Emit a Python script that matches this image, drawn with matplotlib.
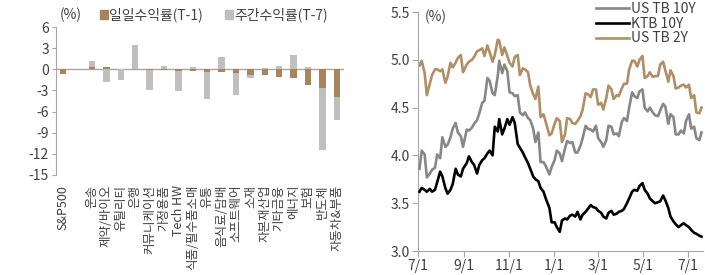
import matplotlib
matplotlib.use("Agg")
import matplotlib.pyplot as plt
import matplotlib.dates as mdates
import numpy as np
import pandas as pd
from matplotlib.patches import Patch
from matplotlib.lines import Line2D

plt.rcParams['font.family'] = ['Noto Sans CJK KR', 'DejaVu Sans']

# ---------------- Left panel data ----------------
categories = ['S&P500', '', '운송', '제약/바이오', '유틸리티', '은행', '커뮤니케이션', '가정용품',
              'Tech HW', '식품/필수품소매', '유통', '음식료/담배', '소프트웨어', '소재', '자본재산업',
              '기타금융', '에너지', '보험', '반도체', '자동차&부품']
daily = [-0.65, np.nan, 0.3, 0.3, 0.1, 0.05, -0.1, -0.15, -0.2, -0.25, -0.35, -0.45, -0.55,
         -0.8, -0.85, -1.1, -1.3, -2.2, -2.65, -3.9]
weekly = [-0.4, np.nan, 1.2, -1.8, -1.5, 3.5, -3.0, 0.4, -3.1, 0.3, -4.2, 1.7, -3.6,
          -1.3, 0.25, 0.5, 2.05, 0.3, -11.4, -7.2]
left_yticks = [6, 3, 0, -3, -6, -9, -12, -15]

# ---------------- Right panel data ----------------
dates = [
    '2023-07-03', '2023-07-06', '2023-07-10', '2023-07-13', '2023-07-17', '2023-07-20', '2023-07-24', '2023-07-27', '2023-07-31',
    '2023-08-03', '2023-08-07', '2023-08-10', '2023-08-14', '2023-08-17', '2023-08-21', '2023-08-24', '2023-08-28', '2023-08-31',
    '2023-09-05', '2023-09-08', '2023-09-12', '2023-09-15', '2023-09-19', '2023-09-22', '2023-09-26', '2023-09-29',
    '2023-10-03', '2023-10-06', '2023-10-10', '2023-10-13', '2023-10-17', '2023-10-19', '2023-10-23', '2023-10-26', '2023-10-30',
    '2023-11-02', '2023-11-06', '2023-11-09', '2023-11-13', '2023-11-16', '2023-11-20', '2023-11-23', '2023-11-27', '2023-11-30',
    '2023-12-04', '2023-12-07', '2023-12-11', '2023-12-14', '2023-12-18', '2023-12-21', '2023-12-26', '2023-12-29',
    '2024-01-02', '2024-01-05', '2024-01-09', '2024-01-12', '2024-01-16', '2024-01-19', '2024-01-23', '2024-01-26', '2024-01-30',
    '2024-02-02', '2024-02-06', '2024-02-09', '2024-02-13', '2024-02-16', '2024-02-20', '2024-02-23', '2024-02-27',
    '2024-03-01', '2024-03-05', '2024-03-08', '2024-03-12', '2024-03-15', '2024-03-19', '2024-03-22', '2024-03-26', '2024-03-29',
    '2024-04-02', '2024-04-05', '2024-04-09', '2024-04-12', '2024-04-16', '2024-04-19', '2024-04-23', '2024-04-26', '2024-04-30',
    '2024-05-03', '2024-05-07', '2024-05-10', '2024-05-14', '2024-05-17', '2024-05-21', '2024-05-24', '2024-05-28', '2024-05-31',
    '2024-06-04', '2024-06-07', '2024-06-11', '2024-06-14', '2024-06-18', '2024-06-21', '2024-06-25', '2024-06-28',
    '2024-07-02', '2024-07-05', '2024-07-09', '2024-07-12', '2024-07-16', '2024-07-19',
]
us10y = [
    3.86, 4.05, 4.01, 3.77, 3.81, 3.85, 3.87, 4.01, 3.97,
    4.19, 4.09, 4.11, 4.19, 4.28, 4.34, 4.24, 4.20, 4.09,
    4.27, 4.26, 4.29, 4.33, 4.37, 4.44, 4.55, 4.57,
    4.81, 4.78, 4.65, 4.63, 4.83, 4.99, 4.86, 4.95, 4.88,
    4.66, 4.65, 4.62, 4.63, 4.45, 4.42, 4.45, 4.39, 4.37,
    4.28, 4.14, 4.24, 3.93, 3.93, 3.89, 3.80, 3.88,
    3.95, 4.05, 4.02, 3.94, 4.07, 4.15, 4.13, 4.14, 4.03,
    4.03, 4.10, 4.18, 4.31, 4.28, 4.27, 4.25, 4.31,
    4.18, 4.14, 4.09, 4.16, 4.31, 4.30, 4.22, 4.23, 4.20,
    4.35, 4.39, 4.36, 4.50, 4.66, 4.62, 4.60, 4.67, 4.69,
    4.50, 4.46, 4.50, 4.45, 4.42, 4.41, 4.47, 4.54, 4.51,
    4.33, 4.43, 4.40, 4.22, 4.22, 4.26, 4.23, 4.36,
    4.43, 4.28, 4.30, 4.18, 4.16, 4.24,
]
ktb10y = [
    3.62, 3.66, 3.64, 3.62, 3.65, 3.62, 3.64, 3.72, 3.83,
    3.78, 3.66, 3.60, 3.64, 3.70, 3.86, 3.80, 3.78, 3.86,
    3.92, 3.99, 3.93, 3.90, 3.81, 3.90, 3.95, 3.97,
    4.02, 4.05, 4.00, 4.30, 4.25, 4.38, 4.22, 4.28, 4.38,
    4.32, 4.40, 4.34, 4.12, 4.08, 4.03, 3.98, 3.92, 3.86,
    3.78, 3.75, 3.73, 3.66, 3.62, 3.55, 3.45, 3.30,
    3.30, 3.25, 3.20, 3.32, 3.34, 3.33, 3.37, 3.38, 3.36,
    3.41, 3.33, 3.38, 3.41, 3.44, 3.48, 3.46, 3.45,
    3.42, 3.40, 3.36, 3.34, 3.40, 3.42, 3.38, 3.39, 3.41,
    3.42, 3.44, 3.50, 3.55, 3.62, 3.64, 3.63, 3.68, 3.71,
    3.64, 3.60, 3.55, 3.52, 3.50, 3.51, 3.52, 3.58, 3.53,
    3.45, 3.36, 3.31, 3.28, 3.25, 3.27, 3.29, 3.27,
    3.25, 3.22, 3.19, 3.18, 3.16, 3.15,
]
us2y = [
    4.94, 4.99, 4.86, 4.63, 4.75, 4.84, 4.90, 4.90, 4.88,
    4.90, 4.76, 4.82, 4.97, 4.92, 4.97, 5.02, 5.05, 4.87,
    4.95, 4.98, 5.00, 5.03, 5.09, 5.10, 5.12, 5.04,
    5.15, 5.08, 4.98, 5.05, 5.21, 5.20, 5.05, 5.13, 5.04,
    4.97, 4.93, 5.03, 5.05, 4.84, 4.91, 4.90, 4.87, 4.73,
    4.64, 4.59, 4.72, 4.40, 4.43, 4.35, 4.21, 4.23,
    4.33, 4.39, 4.36, 4.14, 4.22, 4.39, 4.38, 4.34, 4.33,
    4.36, 4.41, 4.48, 4.65, 4.64, 4.61, 4.69, 4.69,
    4.53, 4.55, 4.48, 4.60, 4.73, 4.69, 4.59, 4.63, 4.62,
    4.70, 4.75, 4.75, 4.90, 4.99, 4.99, 4.93, 5.00, 5.04,
    4.81, 4.83, 4.87, 4.82, 4.83, 4.83, 4.95, 4.98, 4.89,
    4.77, 4.89, 4.83, 4.70, 4.71, 4.73, 4.74, 4.71,
    4.74, 4.60, 4.63, 4.45, 4.44, 4.50,
]
right_xticks = ['2023-07-01', '2023-09-01', '2023-11-01', '2024-01-01', '2024-03-01', '2024-05-01', '2024-07-01']
right_xlabels = ['7/1', '9/1', '11/1', '1/1', '3/1', '5/1', '7/1']
right_yticks = [3.0, 3.5, 4.0, 4.5, 5.0, 5.5]

# ---------------- Styles ----------------
BROWN = '#A8845C'
LGRAY = '#BFBFBF'
MGRAY = '#878787'
TAN = '#B08E66'
AXC = '#A6A6A6'
TXT = '#404040'

fig = plt.figure(figsize=(7.05, 2.75), dpi=100)

# ----- Left -----
ax1 = fig.add_axes([56/705, 1-175/275, (344-56)/705, (175-27)/275])
x = np.arange(len(categories))
w = 0.45
ax1.bar(x, weekly, width=w, color=LGRAY, zorder=2)
ax1.bar(x, daily, width=w, color=BROWN, zorder=3)
ax1.axhline(0, color=AXC, lw=1.0, zorder=1)
ax1.set_xlim(-0.5, len(categories) - 0.5)
ax1.set_ylim(-15, 6)
ax1.set_yticks(left_yticks)
ax1.set_yticklabels([str(v) for v in left_yticks])
ax1.set_xticks(x)
ax1.set_xticklabels(categories, rotation=90, ha='center', va='top')
for s in ['top', 'right', 'bottom']:
    ax1.spines[s].set_visible(False)
ax1.spines['left'].set_color(AXC)
ax1.tick_params(axis='y', colors=AXC, labelcolor=TXT, labelsize=10, length=3, width=0.8, pad=2)
ax1.tick_params(axis='x', length=0, pad=7, labelsize=9, labelcolor=TXT)
fig.text(60/705, 1-15/275, '(%)', fontsize=10, color=TXT, va='center', ha='left')
leg1 = fig.legend(handles=[Patch(color=BROWN), Patch(color=LGRAY)],
                  labels=['일일수익률(T-1)', '주간수익률(T-7)'],
                  loc='center left', bbox_to_anchor=(100/705, 1-15/275), ncol=2, frameon=False,
                  fontsize=10, handlelength=0.55, handleheight=0.55, handletextpad=0.1,
                  columnspacing=1.6, borderpad=0, borderaxespad=0)
for t in leg1.get_texts():
    t.set_color(TXT)

# ----- Right -----
ax2 = fig.add_axes([418/705, 1-251/275, (703-418)/705, (251-12)/275])
d = pd.to_datetime(dates)
ax2.plot(d, us10y, color=MGRAY, lw=1.9, label='US TB 10Y', zorder=3)
ax2.plot(d, ktb10y, color='black', lw=1.9, label='KTB 10Y', zorder=4)
ax2.plot(d, us2y, color=TAN, lw=1.9, label='US TB 2Y', zorder=2)
ax2.set_xlim(pd.Timestamp('2023-07-01'), pd.Timestamp('2024-07-21'))
ax2.set_ylim(3.0, 5.5)
ax2.set_yticks(right_yticks)
ax2.set_yticklabels([f'{v:.1f}' for v in right_yticks])
ax2.set_xticks(pd.to_datetime(right_xticks))
ax2.set_xticklabels(right_xlabels)
for s in ['top', 'right']:
    ax2.spines[s].set_visible(False)
for s in ['left', 'bottom']:
    ax2.spines[s].set_color(AXC)
ax2.tick_params(axis='both', colors=AXC, labelcolor=TXT, labelsize=10, length=4, width=0.8, pad=2)
fig.text(425/705, 1-17/275, '(%)', fontsize=10, color=TXT, va='center', ha='left')
leg2 = ax2.legend(loc='upper left', bbox_to_anchor=(596/705, 1-2/275), bbox_transform=fig.transFigure,
                  frameon=False, fontsize=10, handlelength=2.4, handletextpad=0.15,
                  labelspacing=0.05, borderpad=0, borderaxespad=0)
for t in leg2.get_texts():
    t.set_color(TXT)

fig.savefig('out.png', dpi=100)
